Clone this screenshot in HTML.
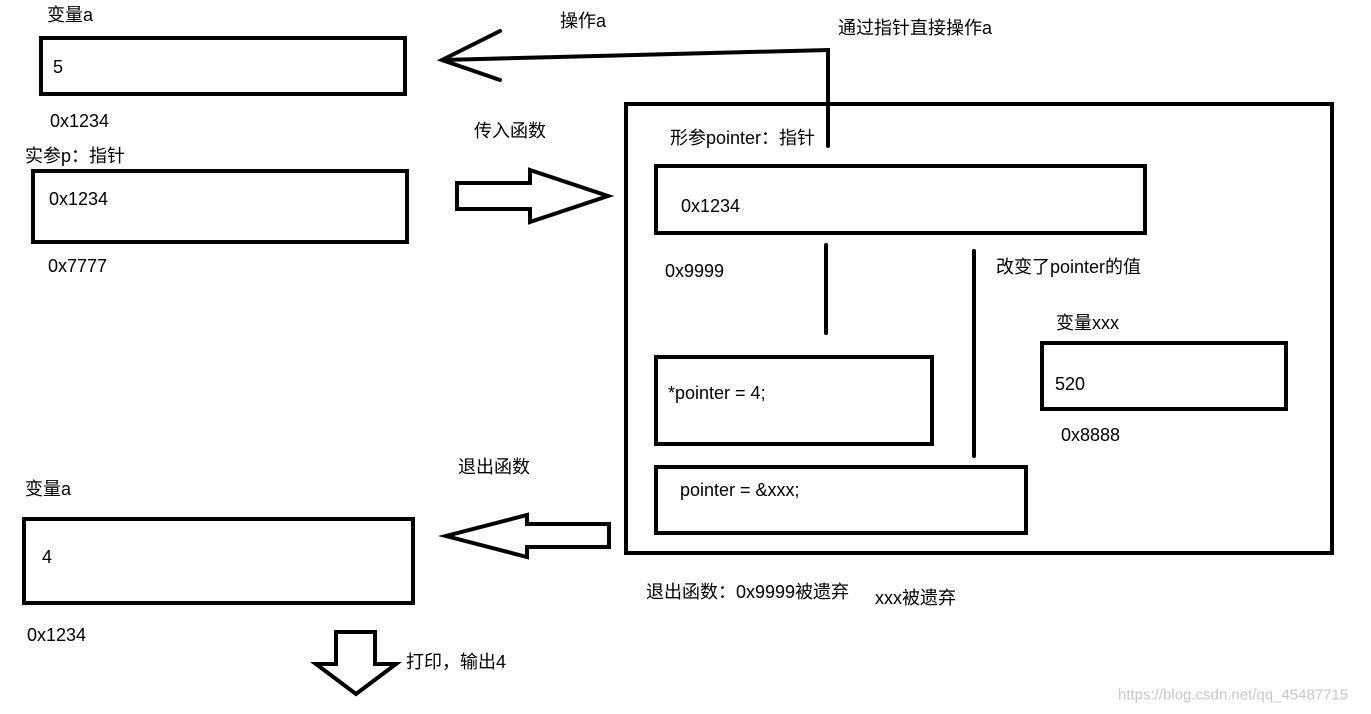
<!DOCTYPE html>
<html><head><meta charset="utf-8"><style>
html,body{margin:0;padding:0;background:#fff;}
svg{display:block;}
text{font-family:"Liberation Sans","Noto Sans CJK SC",sans-serif;font-size:18px;fill:#000;dominant-baseline:central;}
</style></head><body>
<svg width="1371" height="714" viewBox="0 0 1371 714" xmlns="http://www.w3.org/2000/svg">
<g fill="none" stroke="#000" stroke-width="4" stroke-linejoin="miter">
<rect x="41" y="38" width="364" height="56"/>
<rect x="33" y="171" width="374" height="71"/>
<rect x="626" y="104" width="706" height="449"/>
<rect x="656" y="166" width="489" height="67"/>
<rect x="1042" y="343" width="244" height="66"/>
<rect x="656" y="357" width="276" height="87"/>
<rect x="656" y="467" width="370" height="66"/>
<rect x="24" y="519" width="389" height="84"/>
<path d="M457,183 H530 V170 L608,196 L530,222 V209 H457 Z"/>
<path d="M609,524 H527 V515 L446,536 L527,557 V547 H609 Z"/>
<path d="M336,632 H375 V664 H396 L356,694 L316,664 H336 Z"/>
<path d="M500,31 L442,60 L500,80 M442,60 L828,50 V146" stroke-linecap="round"/>
<path d="M826,245 V333 M974,251 V456" stroke-linecap="round"/>
</g>
<text x="47" y="15">变量a</text>
<text x="53" y="67">5</text>
<text x="50" y="121">0x1234</text>
<text x="25" y="156">实参p：指针</text>
<text x="49" y="199">0x1234</text>
<text x="48" y="266">0x7777</text>
<text x="560" y="21">操作a</text>
<text x="838" y="28">通过指针直接操作a</text>
<text x="474" y="131">传入函数</text>
<text x="670" y="138">形参pointer：指针</text>
<text x="681" y="206">0x1234</text>
<text x="665" y="271">0x9999</text>
<text x="996" y="267">改变了pointer的值</text>
<text x="1056" y="323">变量xxx</text>
<text x="1055" y="384">520</text>
<text x="1061" y="435">0x8888</text>
<text x="668" y="393">*pointer = 4;</text>
<text x="680" y="490">pointer  = &amp;xxx;</text>
<text x="458" y="467">退出函数</text>
<text x="25" y="489">变量a</text>
<text x="42" y="557">4</text>
<text x="27" y="635">0x1234</text>
<text x="406" y="662">打印，输出4</text>
<text x="646" y="592">退出函数：0x9999被遗弃</text>
<text x="875" y="598">xxx被遗弃</text>
<text x="1118" y="695" style="fill:#c8c8c8;font-size:15px">https://blog.csdn.net/qq_45487715</text>
</svg>
</body></html>
